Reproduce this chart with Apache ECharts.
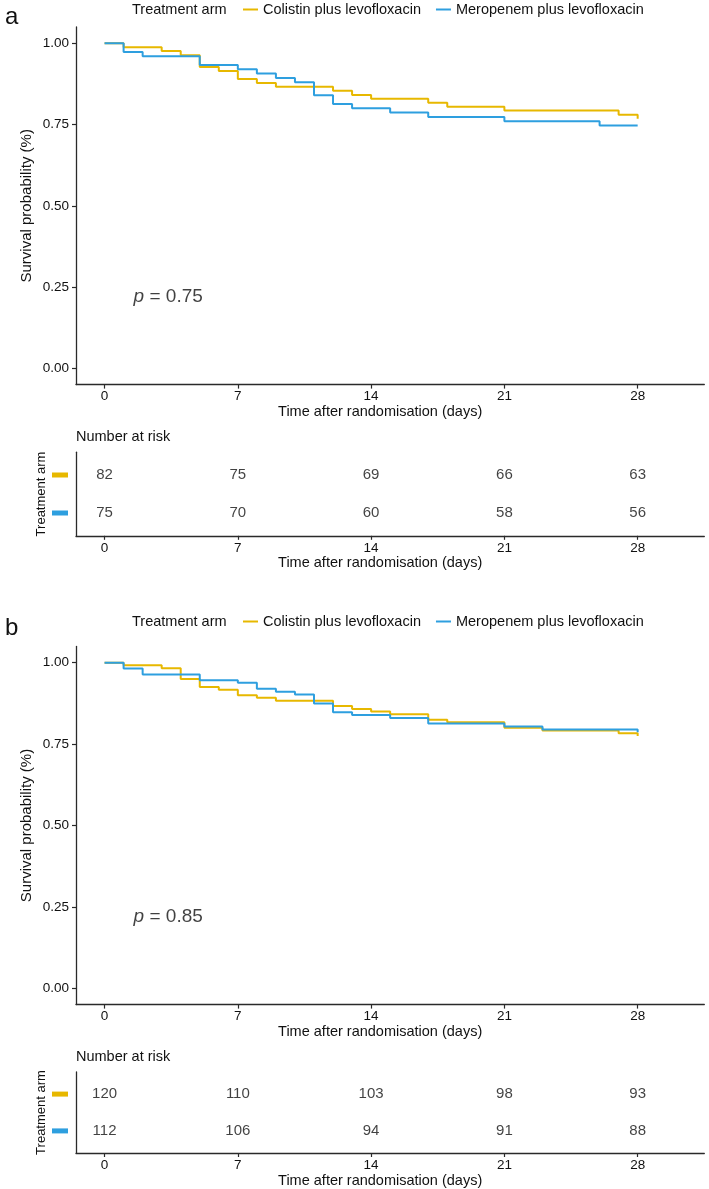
<!DOCTYPE html>
<html>
<head>
<meta charset="utf-8">
<script src="https://cdn.jsdelivr.net/npm/echarts@6/dist/echarts.min.js"></script>
<style>
html,body{margin:0;padding:0;background:#fff;}
#chart{width:709px;height:1189px;}
</style>
</head>
<body>
<div id="chart"></div>
<script>
// ---------- data ----------
const armNames = ['Colistin plus levofloxacin', 'Meropenem plus levofloxacin'];
const armColors = ['#E7B800', '#2E9FDF'];
const tickDays = [0, 7, 14, 21, 28];
const survTicks = [0, 0.25, 0.5, 0.75, 1];

// Panel a: Kaplan-Meier steps
const timesColA = [0, 1, 3, 4, 5, 6, 7, 8, 9, 12, 13, 14, 17, 18, 21, 27, 28];
const survColA  = [1, 0.988, 0.976, 0.963, 0.927, 0.915, 0.890, 0.878, 0.866, 0.854, 0.841, 0.829, 0.817, 0.805, 0.793, 0.780, 0.768];
const timesMerA = [0, 1, 2, 5, 7, 8, 9, 10, 11, 12, 13, 15, 17, 21, 26, 28];
const survMerA  = [1, 0.973, 0.960, 0.933, 0.920, 0.907, 0.893, 0.880, 0.840, 0.813, 0.800, 0.787, 0.773, 0.760, 0.747, 0.747];

// Panel b: Kaplan-Meier steps
const timesColB = [0, 1, 3, 4, 5, 6, 7, 8, 9, 12, 13, 14, 15, 17, 18, 21, 23, 27, 28];
const survColB  = [1, 0.992, 0.983, 0.950, 0.925, 0.917, 0.900, 0.892, 0.883, 0.867, 0.858, 0.850, 0.842, 0.825, 0.817, 0.800, 0.792, 0.783, 0.775];
const timesMerB = [0, 1, 2, 5, 7, 8, 9, 10, 11, 12, 13, 15, 17, 21, 23, 28];
const survMerB  = [1, 0.982, 0.964, 0.946, 0.938, 0.920, 0.911, 0.902, 0.875, 0.848, 0.839, 0.830, 0.813, 0.804, 0.795, 0.786];

// Number at risk
const riskTimes = [0, 7, 14, 21, 28];
const riskColA = [82, 75, 69, 66, 63];
const riskMerA = [75, 70, 60, 58, 56];
const riskColB = [120, 110, 103, 98, 93];
const riskMerB = [112, 106, 94, 91, 88];

const pValues = ['0.75', '0.85'];
const pCoord = [1.5, 0.22];

// ---------- helpers ----------
const FONT = "'Liberation Sans', Arial, Helvetica, sans-serif";
const TXT = '#111';
const AXC = '#2a2a2a';
const zip = (t, v) => t.map((x, i) => [x, v[i]]);

function xAxisDef(gridIndex) {
  return {
    type: 'value', gridIndex, min: -1.5, max: 31.5,
    name: 'Time after randomisation (days)', nameLocation: 'middle', nameGap: 20,
    nameMoveOverlap: false,
    nameTextStyle: { fontFamily: FONT, fontSize: 14.5, color: TXT, padding: [0, 20, 0, 0] },
    axisLine: { show: true, onZero: false, lineStyle: { color: AXC, width: 1.3 } },
    axisTick: { show: true, length: 4, customValues: tickDays, lineStyle: { color: AXC, width: 1.2 } },
    axisLabel: { customValues: tickDays, margin: 5, fontFamily: FONT, fontSize: 13.5, color: TXT },
    splitLine: { show: false }
  };
}
function survYAxis(gridIndex) {
  return {
    type: 'value', gridIndex, min: -0.05, max: 1.05,
    name: 'Survival probability (%)', nameLocation: 'middle', nameGap: 42,
    nameMoveOverlap: false,
    nameTextStyle: { fontFamily: FONT, fontSize: 15, color: TXT },
    axisLine: { show: true, onZero: false, lineStyle: { color: AXC, width: 1.3 } },
    axisTick: { show: true, length: 4, customValues: survTicks, lineStyle: { color: AXC, width: 1.2 } },
    axisLabel: { customValues: survTicks, margin: 7, fontFamily: FONT, fontSize: 13.5, color: TXT,
      formatter: v => v.toFixed(2) },
    splitLine: { show: false }
  };
}
function riskYAxis(gridIndex) {
  return {
    type: 'value', gridIndex, min: 0.4, max: 2.6, inverse: true,
    name: 'Treatment arm', nameLocation: 'middle', nameGap: 28,
    nameMoveOverlap: false,
    nameTextStyle: { fontFamily: FONT, fontSize: 13, color: TXT },
    axisLine: { show: true, onZero: false, lineStyle: { color: AXC, width: 1.3 } },
    axisTick: { show: false },
    axisLabel: { customValues: [1, 2], margin: 8,
      formatter: v => (v === 1 ? '{c|}' : '{m|}'),
      rich: {
        c: { backgroundColor: armColors[0], width: 16, height: 5 },
        m: { backgroundColor: armColors[1], width: 16, height: 5 }
      } },
    splitLine: { show: false }
  };
}
function kmSeries(name, color, data, idx) {
  return {
    type: 'line', name, step: 'end', data, xAxisIndex: idx, yAxisIndex: idx,
    symbol: 'none', showSymbol: false, silent: true,
    lineStyle: { color, width: 2 }, itemStyle: { color }, animation: false
  };
}
function riskSeries(name, values, row, idx) {
  return {
    type: 'scatter', name: name + ' risk', xAxisIndex: idx, yAxisIndex: idx,
    data: riskTimes.map((t, i) => [t, row, values[i]]),
    symbol: 'rect', symbolSize: 1, itemStyle: { color: 'rgba(0,0,0,0)' }, silent: true,
    label: { show: true, position: 'inside', formatter: p => String(p.value[2]),
      fontFamily: FONT, fontSize: 15, color: TXT },
    animation: false
  };
}
function pSeries(p, idx) {
  return {
    type: 'scatter', name: 'p' + idx, xAxisIndex: idx, yAxisIndex: idx,
    data: [pCoord], symbol: 'rect', symbolSize: 1, itemStyle: { color: 'rgba(0,0,0,0)' }, silent: true,
    label: { show: true, position: 'right', distance: 0, formatter: '{i|p} = ' + p,
      fontFamily: FONT, fontSize: 19, color: TXT,
      rich: { i: { fontStyle: 'italic', fontFamily: FONT, fontSize: 19, color: TXT } } },
    animation: false
  };
}
function legendDef(top) {
  return {
    data: armNames, left: 243, top, orient: 'horizontal', selectedMode: false,
    icon: 'rect', itemWidth: 15, itemHeight: 2, itemGap: 15,
    textStyle: { fontFamily: FONT, fontSize: 14.5, color: TXT }, padding: 0
  };
}
function titleDef(text, left, top, size) {
  return { text, left, top, padding: 0,
    textStyle: { fontFamily: FONT, fontSize: size, fontWeight: 'normal', color: TXT } };
}

const chart = echarts.init(document.getElementById('chart'), null, { renderer: 'canvas' });
chart.setOption({
  backgroundColor: '#fff',
  animation: false,
  title: [
    titleDef('a', 5, 5, 24),
    titleDef('b', 5, 616, 24),
    titleDef('Treatment arm', 132, 2, 14.5),
    titleDef('Treatment arm', 132, 614, 14.5),
    titleDef('Number at risk', 76, 429, 14.5),
    titleDef('Number at risk', 76, 1049, 14.5)
  ],
  legend: [legendDef(2), legendDef(614)],
  grid: [
    { left: 76, right: 4.7, top: 27, height: 357.6 },
    { left: 76, right: 4.7, top: 452.2, height: 83.6 },
    { left: 76, right: 4.7, top: 646.4, height: 358.2 },
    { left: 76, right: 4.7, top: 1072, height: 83.6 }
  ],
  xAxis: [xAxisDef(0), xAxisDef(1), xAxisDef(2), xAxisDef(3)],
  yAxis: [survYAxis(0), riskYAxis(1), survYAxis(2), riskYAxis(3)],
  series: [
    kmSeries(armNames[0], armColors[0], zip(timesColA, survColA), 0),
    kmSeries(armNames[1], armColors[1], zip(timesMerA, survMerA), 0),
    kmSeries(armNames[0], armColors[0], zip(timesColB, survColB), 2),
    kmSeries(armNames[1], armColors[1], zip(timesMerB, survMerB), 2),
    pSeries(pValues[0], 0),
    pSeries(pValues[1], 2),
    riskSeries('col', riskColA, 1, 1),
    riskSeries('mer', riskMerA, 2, 1),
    riskSeries('col', riskColB, 1, 3),
    riskSeries('mer', riskMerB, 2, 3)
  ]
});
</script>
</body>
</html>
